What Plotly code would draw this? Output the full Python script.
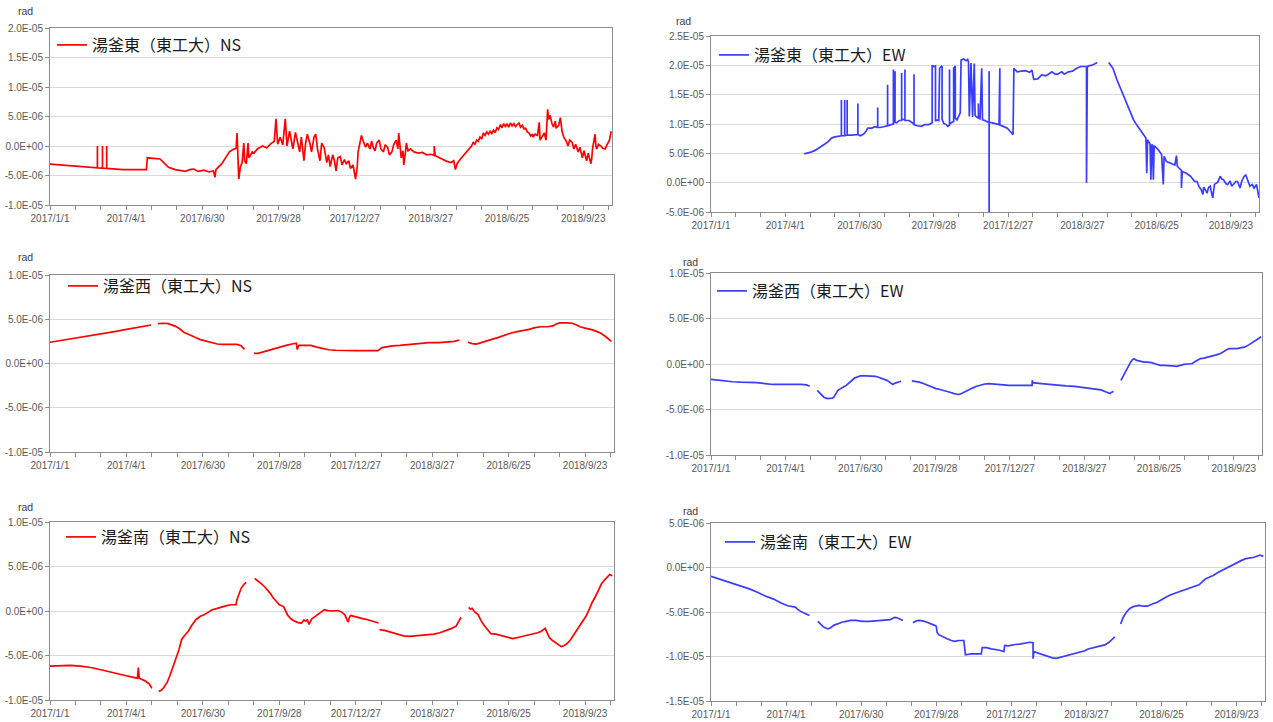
import pandas as pd
import plotly.graph_objects as go

# ---------------------------------------------------------------------------
# Tiltmeter records, Kusatsu-Shirane (Yugama crater), 2017/1/1 - 2018/10
# Day numbers count from 2017-01-01, values are in micro-radians.
# None marks a break in the record.
# ---------------------------------------------------------------------------
BASE = pd.Timestamp("2017-01-01")

east_ns_day = [0, 20, 40, 56, 56, 56, 62, 62, 62, 67, 67, 67, 86, 114, 115, 125, 130, 135, 140, 148,
               154, 160, 165, 170, 175, 182, 188, 193, 195, 196, 203, 208, 212, 216, 220, 221, 222, 223, 225,
               227, 229, 230, 232, 234, 235, 239, 241, 245, 251, 256, 261, 265, 267, 269, 272, 275, 278,
               280, 283, 285, 287, 290, 292, 295, 297, 300, 302, 304, 307, 309, 312, 314, 316, 319, 321,
               324, 327, 329, 331, 334, 336, 338, 340, 343, 345, 348, 350, 353, 355, 358, 361, 363, 364,
               366, 368, 370, 373, 375, 378, 380, 382, 384, 386, 389, 391, 394, 396, 399, 401, 404, 406,
               409, 411, 412, 414, 415, 417, 418, 420, 421, 423, 426, 430, 435, 440, 445, 450, 454, 454,
               455, 460, 465, 469, 474, 477, 479, 481, 485, 489, 494, 498, 500, 502, 504, 506, 508, 510,
               512, 514, 516, 518, 520, 522, 524, 526, 528, 530, 532, 534, 536, 538, 540, 542, 544, 546,
               548, 550, 552, 554, 556, 558, 560, 562, 564, 566, 568, 570, 571, 573, 576, 578, 579, 581,
               584, 586, 588, 589, 591, 593, 595, 597, 598, 601, 603, 605, 607, 610, 612, 614, 617, 619,
               621, 624, 626, 629, 631, 634, 636, 639, 640, 641, 644, 645, 646, 648, 651, 653, 656, 658,
               661, 663]
east_ns_val = [-3.07, -3.3, -3.55, -3.7, 0.0, -3.7, -3.75, 0.0, -3.75, -3.8, 0.0, -3.8, -4.0, -4.0, -2.0,
               -2.1, -2.2, -2.9, -3.6, -4.0, -4.1, -4.3, -4.0, -3.9, -4.3, -4.1, -4.4, -4.2, -5.3, -4.0,
               -3.0, -1.8, -1.0, -0.6, -0.4, 2.2, -1.5, -5.6, -3.5, -2.8, 0.5, -2.5, -3.0, 0.5, -2.0, -1.0,
               -1.2, -0.5, 0.0, -0.3, 0.4, 0.8, 4.6, 0.3, 1.5, 0.2, 4.6, 0.0, 2.5, 1.2, -0.5, 2.3, 1.0,
               -1.0, 1.5, -2.5, 0.5, 2.0, 0.5, -1.0, 1.5, 2.0, -0.5, -2.5, 0.5, -0.3, -2.8, -1.5, -3.5,
               -1.5, -2.5, -4.2, -2.0, -1.8, -3.2, -2.3, -3.0, -2.5, -3.8, -3.2, -5.6, -3.5, -1.0, 0.5,
               1.8, 0.8, -0.2, 0.5, -0.5, 0.8, -0.3, -0.8, 0.5, 1.0, -0.5, -1.0, 0.2, -0.3, -1.5, -1.0,
               0.2, 1.0, -0.5, 2.2, -0.5, -2.0, -0.8, -3.2, -1.0, 0.5, -0.8, -0.5, -1.0, -1.2, -1.1, -1.5,
               -1.4, -1.6, 0.0, -1.6, -2.0, -2.4, -2.6, -2.8, -2.5, -4.0, -3.0, -2.2, -1.5, -0.8, 0.0, 0.6,
               0.3, 1.0, 0.8, 1.5, 1.2, 2.2, 1.8, 2.4, 2.0, 2.5, 2.1, 2.7, 2.3, 3.1, 2.8, 3.6, 3.1, 3.8,
               3.3, 3.7, 3.2, 3.9, 3.4, 3.8, 3.3, 3.6, 3.9, 3.2, 3.5, 2.9, 3.0, 2.4, 2.2, 1.7, 2.0, 1.5,
               2.0, 1.8, 4.0, 1.0, 1.5, 2.2, 1.0, 6.2, 4.5, 5.2, 3.8, 3.2, 4.2, 3.0, 3.5, 4.8, 2.5, 1.5,
               0.8, 0.0, 1.0, 0.6, -0.5, 0.3, -1.0, -0.2, -2.0, -0.8, -2.5, -1.2, -3.0, -2.2, -0.5, 2.0,
               0.0, -0.5, 0.3, 0.0, -0.4, -0.5, 0.2, 1.0, 2.5]

east_ew_day = [113, 117, 121, 126, 131, 138, 142, 146, 150, 153, 158, 158, 158, 162, 162, 162, 165, 165,
               165, 170, 175, 178, 178, 178, 181, 185, 188, 190, 195, 198, 202, 202, 202, 205, 210, 214,
               214, 214, 218, 221, 221, 221, 223, 223, 223, 225, 228, 231, 231, 231, 233, 235, 235, 235,
               240, 243, 246, 246, 246, 250, 255, 259, 264, 268, 268, 270, 272, 272, 274, 276, 277, 279,
               280, 280, 282, 285, 287, 289, 289, 289, 292, 294, 294, 296, 296, 298, 300, 302, 303, 306,
               309, 311, 312, 313, 315, 317, 319, 320, 321, 324, 324, 324, 326, 328, 329, 332, 334, 337,
               337, 337, 337, 341, 345, 349, 350, 350, 354, 359, 362, 364, 366, 367, 371, 376, 381, 386,
               389, 391, 396, 401, 405, 408, 413, 417, 420, 425, 428, 433, 438, 443, 448, 453, 455, 455,
               456, 458, 463, 468, 475, 482, 487, 492, 497, 502, 507, 512, 517, 522, 527, 528, 529, 532,
               533, 534, 535, 536, 537, 538, 542, 546, 548, 549, 552, 557, 562, 564, 565, 567, 570, 570,
               571, 576, 581, 586, 589, 591, 594, 596, 597, 599, 601, 603, 605, 606, 608, 610, 614, 617,
               619, 621, 624, 626, 629, 631, 634, 636, 638, 641, 643, 646, 648, 651, 653, 656, 658, 661,
               663, 664]
east_ew_val = [4.9, 5.0, 5.2, 5.5, 5.9, 6.6, 7.0, 7.6, 7.8, 7.9, 8.0, 14.1, 8.0, 8.0, 14.1, 8.0, 8.1, 14.1,
               8.1, 8.1, 8.2, 8.2, 13.5, 8.2, 8.0, 8.3, 8.8, 9.3, 9.3, 9.5, 9.5, 12.8, 9.4, 9.4, 9.6, 9.7,
               16.7, 9.7, 9.9, 10.0, 19.3, 10.2, 10.3, 19.0, 10.3, 10.2, 10.6, 10.6, 18.7, 10.7, 10.8,
               10.7, 19.3, 10.6, 10.6, 10.3, 10.0, 18.5, 9.9, 9.7, 9.6, 9.9, 9.9, 10.2, 20.0, 19.8, 19.9,
               10.5, 10.7, 10.6, 19.5, 19.8, 19.9, 10.8, 10.1, 9.9, 9.6, 9.8, 19.3, 10.0, 10.3, 10.4,
               19.5, 19.9, 11.0, 10.7, 11.3, 11.9, 20.9, 21.1, 20.8, 21.0, 20.6, 11.3, 20.4, 11.2, 20.3,
               11.5, 11.3, 11.0, 13.5, 11.0, 10.9, 19.5, 10.7, 10.6, 10.4, 10.3, 19.0, -5.0, 10.3, 10.2,
               10.0, 9.9, 19.5, 9.8, 9.6, 9.3, 8.8, 8.5, 8.2, 19.5, 18.9, 19.0, 19.1, 18.8, 19.2, 17.6,
               17.7, 18.4, 18.2, 18.4, 18.9, 18.5, 18.5, 18.9, 18.5, 18.9, 19.0, 19.5, 19.8, 19.8, 19.8,
               0.0, 19.8, 19.9, 20.1, 20.5, None, 20.5, 19.5, 17.5, 15.8, 14.1, 12.4, 10.7, 9.6, 8.5,
               7.6, 1.6, 7.3, 6.6, 0.5, 6.5, 6.4, 0.5, 6.3, 6.2, 5.6, 4.8, -0.3, 4.5, 3.6, 3.3, 3.0, 4.6,
               2.8, 2.5, 2.1, -0.9, 1.9, 1.6, 1.1, 0.2, 0.2, -0.6, -1.2, -2.0, -0.8, -1.2, -1.8, -0.8, -0.6,
               -1.4, -2.6, -0.3, 0.1, 1.1, 0.6, 0.5, -0.2, -0.3, 0.3, -0.6, -0.2, 0.2, 0.2, -0.9, 0.2, 1.1,
               1.3, 0.2, -0.6, -0.3, -0.9, -0.3, -1.5, -2.6, -3.6]

west_ns_day = [0, 20, 38, 56, 76, 90, 100, 110, 119, 122, 127, 134, 139, 144, 148, 153, 158, 163, 167,
               172, 177, 184, 191, 197, 203, 212, 220, 225, 229, 234, 240, 245, 249, 256, 264, 271, 278,
               285, 290, 291, 293, 300, 307, 314, 321, 328, 336, 348, 360, 372, 386, 391, 397, 403, 412,
               422, 434, 446, 458, 470, 476, 482, 487, 492, 497, 502, 508, 514, 521, 528, 535, 543, 550,
               557, 564, 571, 578, 586, 592, 596, 600, 607, 615, 620, 624, 630, 639, 644, 648, 654, 661]
west_ns_val = [2.4, 2.7, 3.0, 3.3, 3.6, 3.85, 4.05, 4.2, 4.35, None, 4.5, 4.55, 4.5, 4.35, 4.2, 3.9, 3.5,
               3.3, 3.1, 2.9, 2.7, 2.5, 2.3, 2.2, 2.15, 2.15, 2.15, 2.0, 1.6, None, 1.15, 1.15, 1.25, 1.45,
               1.7, 1.9, 2.05, 2.2, 2.3, 1.6, 2.05, 2.05, 2.05, 1.85, 1.7, 1.55, 1.5, 1.45, 1.45, 1.45,
               1.45, 1.8, 1.9, 2.0, 2.05, 2.15, 2.25, 2.35, 2.35, 2.4, 2.5, 2.65, None, 2.4, 2.25, 2.2,
               2.35, 2.5, 2.75, 2.95, 3.2, 3.45, 3.6, 3.7, 3.85, 4.05, 4.15, 4.15, 4.25, 4.45, 4.6, 4.6,
               4.55, 4.35, 4.15, 4.0, 3.8, 3.6, 3.45, 3.05, 2.5]

west_ew_day = [0, 8, 16, 26, 36, 45, 55, 65, 75, 85, 95, 102, 109, 115, 119, 123, 128, 132, 136, 140,
               143, 146, 148, 151, 153, 158, 163, 168, 173, 177, 180, 187, 193, 198, 202, 207, 212, 216,
               219, 222, 225, 229, 235, 242, 246, 251, 256, 261, 266, 271, 276, 281, 285, 288, 293, 298,
               302, 305, 310, 315, 320, 325, 330, 335, 342, 349, 359, 369, 378, 387, 387, 388, 398, 408,
               418, 428, 438, 447, 455, 462, 470, 477, 481, 483, 485, 489, 494, 498, 501, 505, 508, 510,
               513, 517, 522, 526, 531, 536, 541, 546, 551, 556, 561, 566, 570, 575, 580, 584, 587, 590,
               594, 599, 604, 609, 614, 619, 624, 629, 634, 639, 643, 648, 653, 658, 663]
west_ew_val = [-1.7, -1.8, -1.9, -1.95, -2.0, -2.0, -2.05, -2.15, -2.25, -2.25, -2.25, -2.2, -2.25, -2.3,
               -2.45, None, -2.9, -3.3, -3.65, -3.8, -3.8, -3.75, -3.65, -3.2, -2.9, -2.6, -2.35, -1.95,
               -1.55, -1.4, -1.3, -1.3, -1.3, -1.35, -1.45, -1.6, -1.8, -2.05, -2.25, -2.1, -2.0, -1.9,
               None, -1.85, -1.9, -2.0, -2.15, -2.35, -2.55, -2.7, -2.8, -2.9, -3.0, -3.1, -3.25, -3.35,
               -3.25, -3.1, -2.9, -2.65, -2.45, -2.3, -2.2, -2.15, -2.2, -2.3, -2.35, -2.35, -2.35, -2.35,
               -1.8, -2.05, -2.15, -2.25, -2.3, -2.4, -2.45, -2.55, -2.6, -2.7, -2.85, -3.1, -3.25, -3.1,
               -3.0, None, -1.8, -1.1, -0.5, 0.1, 0.5, 0.55, 0.4, 0.3, 0.2, 0.2, 0.15, 0.0, -0.15, -0.15,
               -0.15, -0.2, -0.25, -0.1, -0.05, 0.0, 0.05, 0.3, 0.5, 0.6, 0.65, 0.75, 0.9, 1.0, 1.15, 1.45,
               1.7, 1.7, 1.7, 1.8, 1.85, 2.1, 2.45, 2.7, 3.0]

south_ns_day = [0, 12, 24, 36, 48, 60, 72, 82, 91, 98, 103, 104, 105, 112, 117, 120, 124, 128, 131, 134,
                138, 141, 145, 148, 152, 155, 159, 163, 167, 172, 177, 182, 187, 191, 197, 203, 208, 213,
                219, 220, 223, 225, 229, 231, 236, 241, 245, 249, 253, 256, 260, 263, 267, 270, 275, 280,
                284, 287, 292, 296, 299, 301, 303, 305, 308, 312, 315, 319, 323, 327, 333, 339, 343, 347,
                349, 351, 353, 354, 358, 363, 368, 373, 380, 387, 387.5, 388, 395, 402, 409, 416, 423, 430,
                438, 445, 452, 459, 464, 468, 473, 478, 481, 484, 488, 493, 495, 497, 500, 504, 507, 511,
                515, 519, 525, 531, 538, 545, 552, 559, 566, 574, 578, 581, 583, 586, 588, 592, 595, 598,
                602, 605, 609, 613, 617, 620, 624, 628, 631, 635, 638, 642, 646, 649, 653, 656, 659, 662]
south_ns_val = [-6.2, -6.15, -6.1, -6.2, -6.35, -6.6, -6.9, -7.1, -7.3, -7.45, -7.55, -6.35, -7.55, -7.85,
                -8.2, -8.7, None, -9.05, -8.9, -8.6, -8.0, -7.3, -6.3, -5.4, -4.3, -3.2, -2.7, -2.25, -1.6,
                -0.95, -0.6, -0.4, -0.1, 0.15, 0.3, 0.5, 0.6, 0.7, 0.7, 1.25, 2.0, 2.55, 3.05, 3.2, None,
                3.65, 3.4, 3.05, 2.7, 2.4, 1.9, 1.45, 1.0, 0.7, 0.5, -0.5, -0.9, -1.1, -1.3, -1.35, -1.0,
                -1.15, -1.0, -1.5, -0.9, -0.6, -0.4, -0.1, 0.15, 0.05, 0.0, 0.05, -0.1, -0.4, -0.8, -1.25,
                -0.6, -0.5, -0.6, -0.75, -0.85, -0.95, -1.15, -1.35, None, -2.1, -2.2, -2.4, -2.6, -2.8,
                -2.85, -2.8, -2.7, -2.65, -2.6, -2.45, -2.3, -2.15, -1.95, -1.7, -1.2, -0.7, None, 0.4, 0.2,
                0.3, -0.1, -0.4, -1.0, -1.6, -2.1, -2.55, -2.6, -2.75, -2.9, -3.1, -2.95, -2.8, -2.6, -2.45,
                -2.3, -2.1, -1.95, -2.6, -3.0, -3.35, -3.55, -3.75, -4.0, -3.9, -3.65, -3.2, -2.65, -2.2,
                -1.7, -1.1, -0.6, 0.2, 0.9, 1.6, 2.4, 3.0, 3.5, 3.85, 4.1, 3.95]

south_ew_day = [0, 10, 21, 33, 46, 55, 65, 75, 84, 92, 98, 101, 104, 106, 112, 118, 123, 128, 131, 135,
                140, 143, 147, 152, 157, 162, 167, 174, 181, 190, 200, 208, 215, 218, 220, 223, 225, 230,
                236, 242, 246, 249, 254, 259, 264, 268, 270, 271, 273, 278, 283, 288, 292, 297, 303, 305,
                312, 318, 324, 325, 330, 336, 341, 346, 351, 352, 356, 360, 365, 370, 376, 382, 386, 386,
                387, 390, 394, 399, 404, 409, 414, 418, 423, 428, 433, 438, 443, 448, 452, 457, 462, 467,
                472, 477, 481, 484, 487, 491, 494, 498, 502, 506, 510, 513, 518, 523, 529, 535, 542, 549,
                556, 564, 570, 576, 580, 585, 589, 593, 597, 602, 607, 612, 617, 622, 627, 631, 636, 641,
                646, 651, 655, 658, 662]
south_ew_val = [-1.0, -1.3, -1.65, -2.0, -2.4, -2.75, -3.2, -3.55, -4.0, -4.3, -4.4, -4.45, -4.7, -4.85,
                -5.15, -5.4, None, -6.05, -6.35, -6.7, -6.9, -6.8, -6.5, -6.3, -6.15, -6.05, -5.95, -5.95,
                -6.05, -6.05, -6.0, -5.95, -5.85, -5.7, -5.6, -5.65, -5.75, -5.95, None, -6.2, -6.0, -5.95,
                -6.0, -6.15, -6.3, -6.5, -6.6, -7.3, -7.55, -7.8, -8.0, -8.2, -8.3, -8.2, -8.2, -9.8, -9.7,
                -9.7, -9.7, -9.0, -9.0, -9.15, -9.2, -9.3, -9.45, -8.75, -8.8, -8.7, -8.65, -8.6, -8.5,
                -8.4, -8.45, -10.25, -9.45, -9.55, -9.7, -9.9, -10.05, -10.15, -10.2, -10.1, -10.05, -9.9,
                -9.8, -9.65, -9.5, -9.35, -9.15, -9.05, -8.95, -8.85, -8.7, -8.4, -8.1, -7.8, None, -6.35,
                -5.6, -5.0, -4.6, -4.4, -4.3, -4.25, -4.35, -4.35, -4.1, -3.9, -3.5, -3.15, -2.9, -2.65,
                -2.45, -2.2, -2.1, -1.95, -1.6, -1.25, -1.1, -0.9, -0.6, -0.35, -0.1, 0.15, 0.4, 0.6, 0.8,
                1.0, 1.05, 1.15, 1.3, 1.4, 1.25]

# Series names shown in each panel's legend
names = ["湯釜東（東工大）NS", "湯釜東（東工大）EW",
         "湯釜西（東工大）NS", "湯釜西（東工大）EW",
         "湯釜南（東工大）NS", "湯釜南（東工大）EW"]

# Date axis: tick marks every 30 days, a label on every third one
x_tick_labels = ["2017/1/1", "2017/4/1", "2017/6/30", "2017/9/28",
                 "2017/12/27", "2018/3/27", "2018/6/25", "2018/9/23"]
x_tick_days = list(range(0, 661, 30))
x_end_day = 664

# Tilt axes (rad)
y_ticks_east_ns = [-1.0e-5, -5.0e-6, 0.0, 5.0e-6, 1.0e-5, 1.5e-5, 2.0e-5]
y_labels_east_ns = ["-1.0E-05", "-5.0E-06", "0.0E+00", "5.0E-06", "1.0E-05", "1.5E-05", "2.0E-05"]
y_ticks_east_ew = [-5.0e-6, 0.0, 5.0e-6, 1.0e-5, 1.5e-5, 2.0e-5, 2.5e-5]
y_labels_east_ew = ["-5.0E-06", "0.0E+00", "5.0E-06", "1.0E-05", "1.5E-05", "2.0E-05", "2.5E-05"]
y_ticks_pm10 = [-1.0e-5, -5.0e-6, 0.0, 5.0e-6, 1.0e-5]
y_labels_pm10 = ["-1.0E-05", "-5.0E-06", "0.0E+00", "5.0E-06", "1.0E-05"]
y_ticks_south_ew = [-1.5e-5, -1.0e-5, -5.0e-6, 0.0, 5.0e-6]
y_labels_south_ew = ["-1.5E-05", "-1.0E-05", "-5.0E-06", "0.0E+00", "5.0E-06"]

RED = "#ff0000"
BLUE = "#3c3cff"

W, H = 1273, 722
TICK_FONT = dict(family="Liberation Sans Narrow, Arial Narrow, Liberation Sans, sans-serif",
                 size=10, color="#595959")
LEGEND_FONT = dict(family="Noto Sans CJK JP, sans-serif", size=16, color="#1a1a1a")


def to_dates(days):
    return [BASE + pd.Timedelta(days=d) for d in days]


def to_rad(vals):
    return [None if v is None else v * 1e-6 for v in vals]


# panel layout in pixels: (left, right, top, bottom)
panels = [
    dict(days=east_ns_day, vals=east_ns_val, color=RED, box=(50, 612, 28, 205),
         yt=y_ticks_east_ns, yl=y_labels_east_ns, rad=(25, 11), leg=(52, 45)),
    dict(days=east_ew_day, vals=east_ew_val, color=BLUE, box=(711, 1259, 36, 212),
         yt=y_ticks_east_ew, yl=y_labels_east_ew, rad=(683, 21), leg=(714, 55)),
    dict(days=west_ns_day, vals=west_ns_val, color=RED, box=(50, 614, 275, 452),
         yt=y_ticks_pm10, yl=y_labels_pm10, rad=(25, 257), leg=(63, 286)),
    dict(days=west_ew_day, vals=west_ew_val, color=BLUE, box=(711, 1262, 273, 455),
         yt=y_ticks_pm10, yl=y_labels_pm10, rad=(690, 262), leg=(712, 291)),
    dict(days=south_ns_day, vals=south_ns_val, color=RED, box=(50, 614, 522, 700),
         yt=y_ticks_pm10, yl=y_labels_pm10, rad=(25, 507), leg=(61, 537)),
    dict(days=south_ew_day, vals=south_ew_val, color=BLUE, box=(711, 1265, 523, 701),
         yt=y_ticks_south_ew, yl=y_labels_south_ew, rad=(690, 511), leg=(720, 542)),
]

fig = go.Figure()
layout = dict(width=W, height=H, margin=dict(l=0, r=0, t=0, b=0),
              paper_bgcolor="white", plot_bgcolor="white", template="none",
              showlegend=True, annotations=[])

x_ticktext = [x_tick_labels[i // 3] if i % 3 == 0 else "" for i in range(len(x_tick_days))]

for i, p in enumerate(panels, start=1):
    sfx = "" if i == 1 else str(i)
    legend_id = "legend" + sfx
    left, right, top, bottom = p["box"]
    fig.add_trace(go.Scatter(
        x=to_dates(p["days"]), y=to_rad(p["vals"]), mode="lines",
        line=dict(color=p["color"], width=1.7), name=names[i - 1],
        xaxis="x" + sfx, yaxis="y" + sfx, legend=legend_id,
        connectgaps=False, hoverinfo="skip",
    ))
    layout["xaxis" + sfx] = dict(
        domain=[left / W, right / W], anchor="y" + sfx,
        range=[BASE, BASE + pd.Timedelta(days=x_end_day)],
        tickmode="array", tickvals=to_dates(x_tick_days), ticktext=x_ticktext,
        ticks="outside", ticklen=4, tickcolor="#8c8c8c", tickfont=TICK_FONT,
        showline=True, linecolor="#8c8c8c", linewidth=1, mirror=True,
        showgrid=False, zeroline=False, automargin=False,
    )
    layout["yaxis" + sfx] = dict(
        domain=[1 - bottom / H, 1 - top / H], anchor="x" + sfx,
        range=[p["yt"][0], p["yt"][-1]],
        tickmode="array", tickvals=p["yt"], ticktext=p["yl"],
        ticks="outside", ticklen=4, tickcolor="#8c8c8c", tickfont=TICK_FONT,
        showline=True, linecolor="#8c8c8c", linewidth=1, mirror=True,
        showgrid=True, gridcolor="#d9d9d9", gridwidth=1,
        zeroline=False, automargin=False,
    )
    layout[legend_id] = dict(
        x=p["leg"][0] / W, y=1 - p["leg"][1] / H, xanchor="left", yanchor="middle",
        xref="paper", yref="paper", bgcolor="rgba(0,0,0,0)", borderwidth=0,
        font=LEGEND_FONT, itemwidth=30,
    )
    layout["annotations"].append(dict(
        text="rad", x=p["rad"][0] / W, y=1 - p["rad"][1] / H, xref="paper", yref="paper",
        xanchor="center", yanchor="middle", showarrow=False,
        font=dict(family="Liberation Sans, Arial, sans-serif", size=10.5, color="#404040"),
    ))

fig.update_layout(**layout)
fig.write_html("out.html")
